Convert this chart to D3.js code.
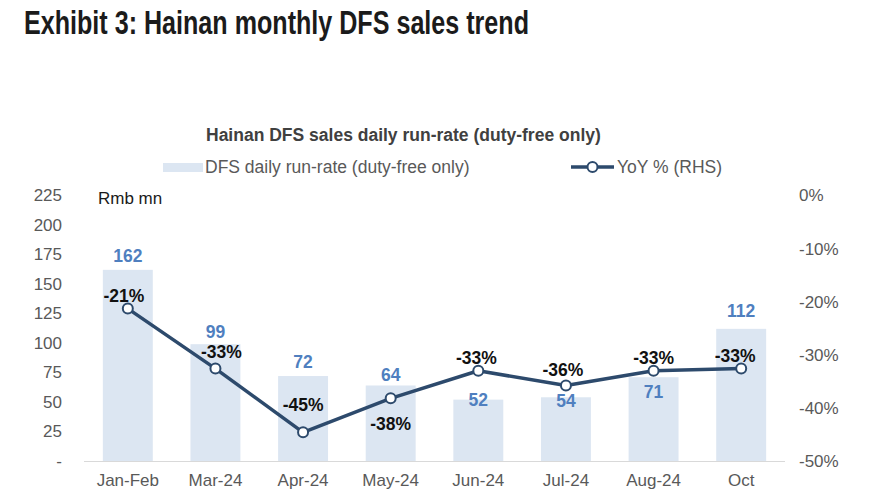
<!DOCTYPE html>
<html>
<head>
<meta charset="utf-8">
<script src="https://cdn.jsdelivr.net/npm/d3@7"></script>
<style>
  html, body { margin: 0; padding: 0; background: #ffffff; }
  svg { display: block; font-family: "Liberation Sans", Arial, sans-serif; }
</style>
</head>
<body>
<svg id="chart" width="870" height="492"></svg>
<script>
// ---- data ----
const categories = ["Jan-Feb", "Mar-24", "Apr-24", "May-24", "Jun-24", "Jul-24", "Aug-24", "Oct"];
const salesValues = [162, 99, 72, 64, 52, 54, 71, 112];
const yoyValues = [-21.3, -32.6, -44.6, -38.2, -33.0, -35.8, -33.0, -32.6];
const leftTicks = [0, 25, 50, 75, 100, 125, 150, 175, 200, 225];
const rightTicks = [0, -10, -20, -30, -40, -50];
const titleText = "Exhibit 3: Hainan monthly DFS sales trend";
const chartTitle = "Hainan DFS sales daily run-rate (duty-free only)";
const barSeriesName = "DFS daily run-rate (duty-free only)";
const lineSeriesName = "YoY % (RHS)";
const unitLabel = "Rmb mn";

// label nudges (layout only, px)
const barLabelDy = [-14, -12, -14, -10, 0, 4, 15, -18];
const lineLabelDy = [-13, -17, -27, 26, -13, -16, -13, -13];
const lineLabelDx = [-4, 6, 0, 0, -2, -3, 0, -6];

// ---- styles ----
const barColor = "#DCE6F2";
const lineColor = "#2D4A6C";
const barLabelColor = "#4F7FBF";
const tickColor = "#595959";

const svg = d3.select("#chart");

const x = d3.scaleBand().domain(categories).range([84, 785]).paddingInner(0.43).paddingOuter(0.215);
const yL = d3.scaleLinear().domain([0, 225]).range([461, 195.5]);
const yR = d3.scaleLinear().domain([-50, 0]).range([461, 195.5]);

// title
svg.append("text")
  .attr("x", 24).attr("y", 34)
  .attr("font-family", "'Liberation Sans Narrow', 'Liberation Sans', Arial, sans-serif")
  .attr("font-weight", "bold").attr("font-size", 34)
  .attr("textLength", 505).attr("lengthAdjust", "spacingAndGlyphs")
  .attr("fill", "#1b1b1b")
  .text(titleText);

// chart title
svg.append("text")
  .attr("x", 206).attr("y", 140.5)
  .attr("font-weight", "bold").attr("font-size", 17.5)
  .attr("fill", "#404040")
  .text(chartTitle);

// legend
svg.append("rect").attr("x", 163).attr("y", 163).attr("width", 40).attr("height", 9).attr("fill", barColor);
svg.append("text").attr("x", 205).attr("y", 173.3).attr("font-size", 17.5).attr("fill", tickColor).text(barSeriesName);
svg.append("line").attr("x1", 571).attr("x2", 614).attr("y1", 167).attr("y2", 167)
  .attr("stroke", lineColor).attr("stroke-width", 3.5);
svg.append("circle").attr("cx", 592.5).attr("cy", 167).attr("r", 5)
  .attr("fill", "#fff").attr("stroke", lineColor).attr("stroke-width", 2);
svg.append("text").attr("x", 617).attr("y", 173.3).attr("font-size", 17.5).attr("fill", tickColor).text(lineSeriesName);

// left axis
const leftAxis = d3.axisLeft(yL).tickValues(leftTicks).tickSize(0).tickPadding(0)
  .tickFormat(d => d === 0 ? "-" : d3.format("d")(d));
const gL = svg.append("g").attr("transform", "translate(62,0)").call(leftAxis);
gL.select(".domain").remove();
gL.selectAll("text").attr("font-size", 17).attr("fill", tickColor)
  .attr("font-family", "'Liberation Sans', Arial, sans-serif");

// right axis
const rightAxis = d3.axisRight(yR).tickValues(rightTicks).tickSize(0).tickPadding(0)
  .tickFormat(d => d + "%");
const gR = svg.append("g").attr("transform", "translate(799,0)").call(rightAxis);
gR.select(".domain").remove();
gR.selectAll("text").attr("font-size", 17).attr("fill", tickColor)
  .attr("font-family", "'Liberation Sans', Arial, sans-serif");

// unit
svg.append("text").attr("x", 98).attr("y", 198).attr("dominant-baseline", "central")
  .attr("font-size", 17).attr("fill", "#1a1a1a").text(unitLabel);

// bars
svg.append("g").selectAll("rect").data(salesValues).join("rect")
  .attr("x", (d, i) => x(categories[i]))
  .attr("y", d => yL(d))
  .attr("width", x.bandwidth())
  .attr("height", d => yL(0) - yL(d))
  .attr("fill", barColor);

// baseline
svg.append("line").attr("x1", 84).attr("x2", 785).attr("y1", 461.5).attr("y2", 461.5)
  .attr("stroke", "#D9D9D9").attr("stroke-width", 1.2);

// x axis labels
const bottomAxis = d3.axisBottom(x).tickSize(0).tickPadding(0);
const gB = svg.append("g").attr("transform", "translate(0,472)").call(bottomAxis);
gB.select(".domain").remove();
gB.selectAll("text").attr("font-size", 17).attr("fill", tickColor)
  .attr("font-family", "'Liberation Sans', Arial, sans-serif").attr("dy", "0.85em");

// bar labels
svg.append("g").selectAll("text").data(salesValues).join("text")
  .attr("x", (d, i) => x(categories[i]) + x.bandwidth() / 2)
  .attr("y", (d, i) => yL(d) + barLabelDy[i])
  .attr("text-anchor", "middle").attr("dominant-baseline", "central")
  .attr("font-weight", "bold").attr("font-size", 17.5).attr("fill", barLabelColor)
  .text(d => d);

// line
const cx = (i) => x(categories[i]) + x.bandwidth() / 2;
const line = d3.line().x((d, i) => cx(i)).y(d => yR(d));
svg.append("path").datum(yoyValues).attr("d", line)
  .attr("fill", "none").attr("stroke", lineColor).attr("stroke-width", 3.5)
  .attr("stroke-linejoin", "round");
svg.append("g").selectAll("circle").data(yoyValues).join("circle")
  .attr("cx", (d, i) => cx(i)).attr("cy", d => yR(d)).attr("r", 5)
  .attr("fill", "#fff").attr("stroke", lineColor).attr("stroke-width", 2);

// line labels
svg.append("g").selectAll("text").data(yoyValues).join("text")
  .attr("x", (d, i) => cx(i) + lineLabelDx[i])
  .attr("y", (d, i) => yR(d) + lineLabelDy[i])
  .attr("text-anchor", "middle").attr("dominant-baseline", "central")
  .attr("font-weight", "bold").attr("font-size", 17.5).attr("fill", "#111")
  .text(d => Math.round(d) + "%");
</script>
</body>
</html>
